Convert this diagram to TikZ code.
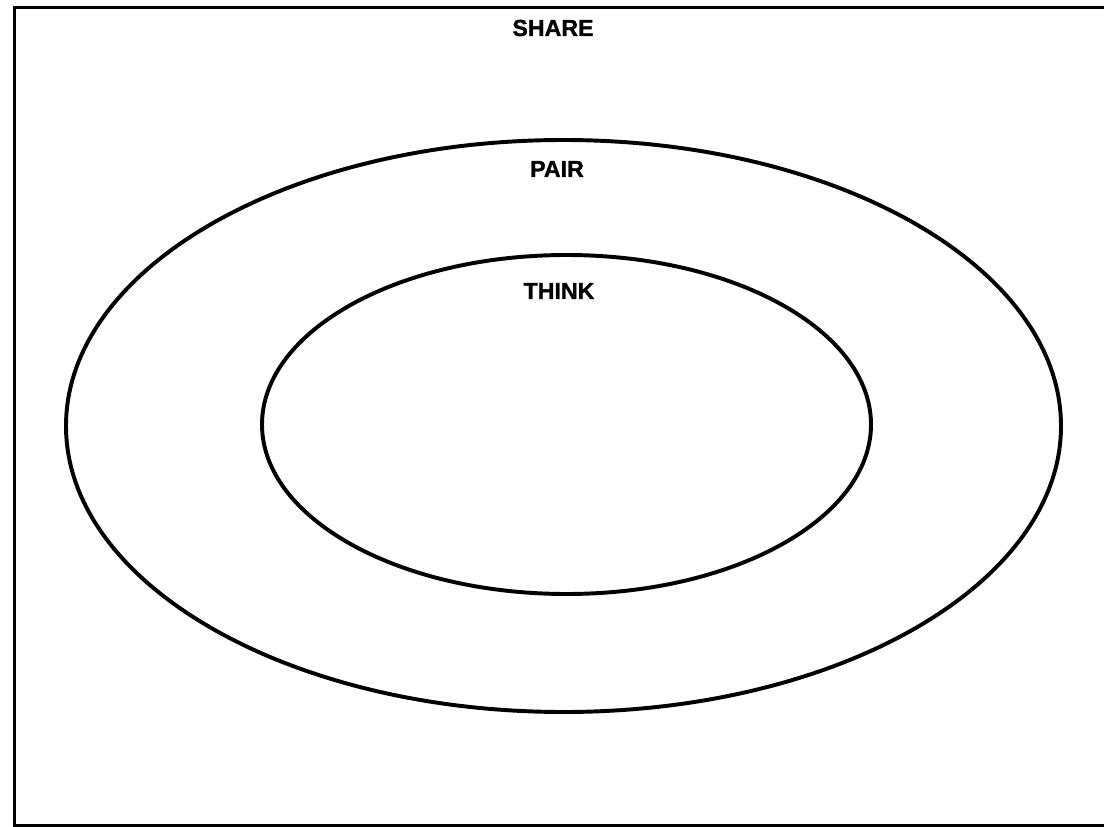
\documentclass[tikz,border=0pt]{standalone}
\usepackage{fontspec}
\setmainfont{Liberation Sans}
\newfontfamily\heavyfont{Liberation Sans Bold}[FakeBold=1.2]
\tikzset{
    ring/.style={line width=2.8pt},
    layer/.style={font=\fontsize{16.5}{18}\heavyfont}
}
\begin{document}
\begin{tikzpicture}[x=0.025cm, y=-0.025cm]
\useasboundingbox (0,0) rectangle (1104,827);
\fill[white](0,0) rectangle (1104,827);
\draw[line width=2.8pt](14.5,7.5) rectangle (1110,826);
\draw[ring](563.5,426) ellipse (497.5 and 286);
\draw[ring](566.5,424.5) ellipse (304.5 and 169.5);
\node[layer] (share) at (553,28) {SHARE};
\node[layer] (pair) at (557,169) {PAIR};
\node[layer] (think) at (559,291) {THINK};

\end{tikzpicture}
\end{document}
